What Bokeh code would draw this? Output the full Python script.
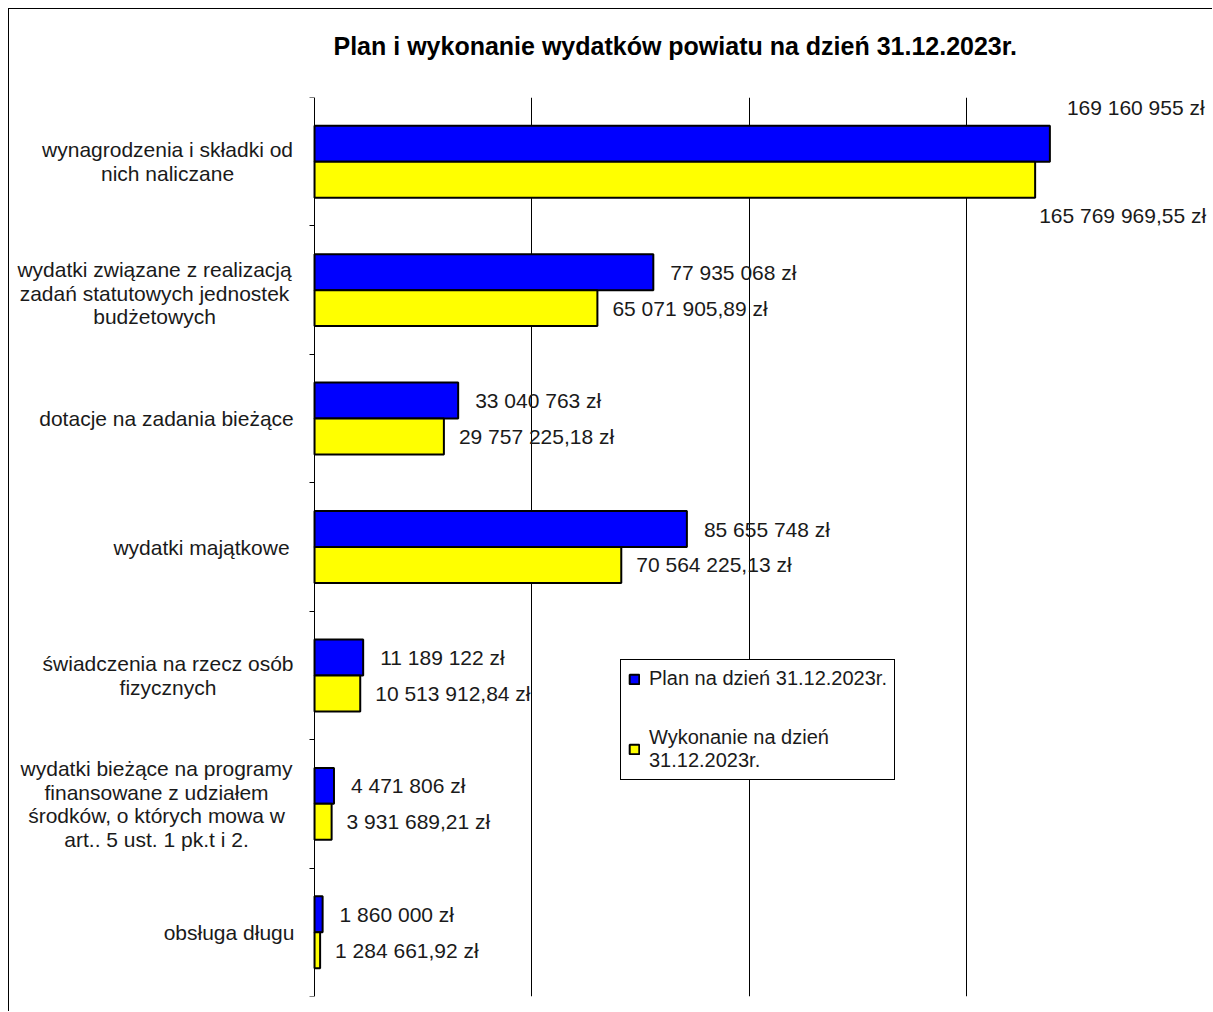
from bokeh.plotting import figure
from bokeh.models import (ColumnDataSource, LabelSet, Legend, LegendItem, LinearAxis,
                          FixedTicker, Grid, Range1d, Title)
from bokeh.core.properties import value
from bokeh.embed import file_html
from bokeh.resources import INLINE

# ---------------- data ----------------
categories = [
    "wynagrodzenia i składki od\nnich naliczane",
    "wydatki związane z realizacją\nzadań statutowych jednostek\nbudżetowych",
    "dotacje na zadania bieżące",
    "wydatki majątkowe",
    "świadczenia na rzecz osób\nfizycznych",
    "wydatki bieżące na programy\nfinansowane z udziałem\nśrodków, o których mowa w\nart.. 5 ust. 1 pk.t i 2.",
    "obsługa długu",
]
plan = [169160955, 77935068, 33040763, 85655748, 11189122, 4471806, 1860000]
execution = [165769969.55, 65071905.89, 29757225.18, 70564225.13, 10513912.84, 3931689.21, 1284661.92]
series_names = ["Plan na dzień 31.12.2023r.", "Wykonanie na dzień\n31.12.2023r."]
title_text = "Plan i wykonanie wydatków powiatu na dzień 31.12.2023r."
grid_values = [50e6, 100e6, 150e6]

# ---------------- layout / style ----------------
FONT = "Liberation Sans"
TEXT_COLOR = "#1a1a1a"
BAR_H = 0.28
X_START, X_END = -70.17e6, 206.8e6
LINE_STEP = 23.5
cat_label_dx = [-147, -160, -148, -113, -146.5, -158, -85.5]
cat_label_dy = [0, -3, 0, 0, 0, 0, 0]
plan_dx = [17, 17, 17, 17, 17, 17, 17]
plan_dy = [36, 0, 0, 0, 0, 0, 0]
exec_dx = [4, 15, 15, 15, 15, 15, 15]
exec_dy = [-36, 0, 0, 0, 0, 0, 0]


def fmt_pl(v, decimals):
    s = f"{v:,.{decimals}f}"
    s = s.replace(",", " ").replace(".", ",")
    return s + " zł"


n = len(categories)
centers = [i + 0.5 for i in range(n)]

p = figure(width=1204, height=1003, output_backend="svg", toolbar_location=None,
           x_range=Range1d(X_START, X_END), y_range=Range1d(n, 0),
           x_axis_location=None, y_axis_location=None,
           min_border_left=0, min_border_right=0, min_border_top=88, min_border_bottom=16)
p.styles = {"margin-left": "8px", "margin-top": "8px",
            "border-left": "1px solid black", "border-top": "1px solid black"}
p.outline_line_color = None
p.background_fill_color = "white"
p.border_fill_color = "white"
p.center = [r for r in p.center if not isinstance(r, Grid)]

# spacer between frame and title, then the title itself
spacer = Title(text=" ", text_font_size="10px", standoff=24)
p.add_layout(spacer, "above")
title = Title(text=title_text, align="left", offset=324, vertical_align="middle", standoff=0,
              text_font=FONT, text_font_size="25px", text_font_style="bold", text_color="black")
p.add_layout(title, "above")

# y axis at x = 0 with ticks at category boundaries
yaxis = LinearAxis(ticker=FixedTicker(ticks=list(range(n + 1)), minor_ticks=[]), fixed_location=0)
yaxis.axis_line_color = "black"
yaxis.axis_line_width = 1
yaxis.major_tick_line_color = "black"
yaxis.major_tick_in = 0
yaxis.major_tick_out = 5
yaxis.major_label_text_color = None
yaxis.major_label_text_font_size = "1px"
p.add_layout(yaxis, "left")

grid = Grid(dimension=0, ticker=FixedTicker(ticks=grid_values, minor_ticks=[]))
grid.grid_line_color = "black"
grid.grid_line_width = 1
p.add_layout(grid)

src = ColumnDataSource(dict(
    y_plan=[c - BAR_H / 2 for c in centers],
    y_exec=[c + BAR_H / 2 for c in centers],
    plan=plan,
    execution=execution,
    plan_txt=[fmt_pl(v, 0) for v in plan],
    exec_txt=[fmt_pl(v, 2) for v in execution],
    plan_dx=plan_dx, plan_dy=plan_dy,
    exec_dx=exec_dx, exec_dy=exec_dy,
))

# category labels: one entry per text line, each line centred
cat_rows = dict(x=[], y=[], text=[], dx=[], dy=[])
for i, cat in enumerate(categories):
    lines = cat.split("\n")
    k = len(lines)
    for j, line in enumerate(lines):
        cat_rows["x"].append(0)
        cat_rows["y"].append(centers[i])
        cat_rows["text"].append(line)
        cat_rows["dx"].append(cat_label_dx[i])
        cat_rows["dy"].append(((k - 1) / 2 - j) * LINE_STEP + cat_label_dy[i])
cat_src = ColumnDataSource(cat_rows)

r_plan = p.hbar(y="y_plan", left=0, right="plan", height=BAR_H, source=src,
                fill_color="#0000FF", line_color="black", line_width=2)
r_exec = p.hbar(y="y_exec", left=0, right="execution", height=BAR_H, source=src,
                fill_color="#FFFF00", line_color="black", line_width=2)

p.add_layout(LabelSet(x="plan", y="y_plan", text="plan_txt", x_offset="plan_dx", y_offset="plan_dy",
                      source=src, text_font=value(FONT), text_font_size="21px", text_color=TEXT_COLOR,
                      text_align="left", text_baseline="middle"))
p.add_layout(LabelSet(x="execution", y="y_exec", text="exec_txt", x_offset="exec_dx", y_offset="exec_dy",
                      source=src, text_font=value(FONT), text_font_size="21px", text_color=TEXT_COLOR,
                      text_align="left", text_baseline="middle"))
p.add_layout(LabelSet(x="x", y="y", text="text", x_offset="dx", y_offset="dy", source=cat_src,
                      text_font=value(FONT), text_font_size="21px", text_color=TEXT_COLOR,
                      text_align="center", text_baseline="middle"))

legend = Legend(items=[LegendItem(label=series_names[0], renderers=[r_plan]),
                       LegendItem(label=series_names[1], renderers=[r_exec])],
                location=(611, 216), orientation="vertical",
                glyph_width=12, glyph_height=12, label_standoff=9,
                padding=7, spacing=36, margin=0,
                border_line_color="black", border_line_width=1, border_line_alpha=1,
                background_fill_color="white", background_fill_alpha=1,
                label_text_font=FONT, label_text_font_size="20px", label_text_color=TEXT_COLOR,
                label_text_line_height=1.15, label_height=12)
p.add_layout(legend)

open("out.html", "w").write(file_html(p, INLINE))
